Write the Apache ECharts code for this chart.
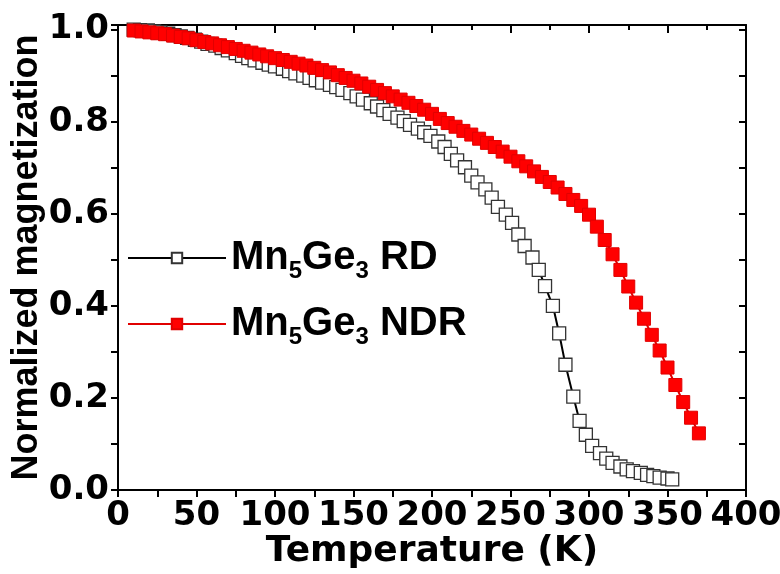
<!DOCTYPE html>
<html>
<head>
<meta charset="utf-8">
<script src="https://cdn.jsdelivr.net/npm/echarts@6/dist/echarts.min.js"></script>
<style>
html,body{margin:0;padding:0;background:#fff;}
#chart{width:780px;height:574px;}
</style>
</head>
<body>
<div id="chart"></div>
<script>
// Temperature (K) and normalized magnetization
const rdT = [10,14,19,23,27,32,36,40,44,49,53,57,62,66,70,75,79,83,87,92,96,100,105,109,113,118,122,126,130,135,139,143,148,152,156,161,165,169,173,178,182,186,191,195,199,204,208,212,216,221,225,229,234,238,242,247,251,255,259,264,268,272,277,281,285,290,294,298,302,307,311,315,320,324,328,333,337,341,345,350,353];
const rdM = [1.000,0.999,0.998,0.996,0.994,0.991,0.988,0.985,0.982,0.978,0.974,0.969,0.965,0.960,0.955,0.949,0.943,0.938,0.933,0.928,0.924,0.920,0.915,0.910,0.905,0.900,0.895,0.890,0.885,0.880,0.875,0.869,0.862,0.855,0.848,0.840,0.833,0.825,0.817,0.809,0.801,0.793,0.785,0.777,0.769,0.757,0.745,0.730,0.716,0.701,0.683,0.668,0.653,0.635,0.615,0.598,0.580,0.555,0.530,0.505,0.478,0.443,0.400,0.340,0.272,0.203,0.150,0.120,0.096,0.080,0.068,0.059,0.051,0.045,0.041,0.037,0.033,0.030,0.027,0.025,0.023];
const ndrT = [10,15,20,25,30,35,40,45,50,55,60,65,70,75,80,85,90,95,100,105,110,115,120,125,130,135,140,145,150,155,160,165,170,175,180,185,190,195,200,205,210,215,220,225,230,235,240,245,250,255,260,265,270,275,280,285,290,295,300,305,310,315,320,325,330,335,340,345,350,355,360,365,370];
const ndrM = [0.998,0.996,0.994,0.992,0.990,0.987,0.984,0.981,0.977,0.973,0.970,0.966,0.962,0.958,0.954,0.950,0.946,0.942,0.938,0.934,0.930,0.926,0.922,0.917,0.912,0.907,0.901,0.895,0.889,0.883,0.876,0.869,0.862,0.855,0.848,0.841,0.834,0.826,0.817,0.806,0.797,0.789,0.780,0.772,0.763,0.754,0.745,0.735,0.724,0.714,0.703,0.692,0.680,0.669,0.657,0.643,0.630,0.617,0.598,0.572,0.543,0.512,0.478,0.442,0.407,0.372,0.337,0.303,0.266,0.228,0.191,0.157,0.123];
const seriesNames = ['Mn5Ge3 RD', 'Mn5Ge3 NDR'];
const legendRich = {
  'Mn5Ge3 RD': '{t|Mn}{s|5}{t|Ge}{s|3}{t| RD}',
  'Mn5Ge3 NDR': '{t|Mn}{s|5}{t|Ge}{s|3}{t| NDR}'
};
const xTicks = {min: 0, max: 400, interval: 50};
const yTicks = {min: 0, max: 1.01, interval: 0.2};

const pair = (xs, ys) => xs.map((x, i) => [x, ys[i]]);
const chart = echarts.init(document.getElementById('chart'), null, {renderer: 'canvas'});
const labelFont = {fontFamily: 'DejaVu Sans', fontWeight: 'bold', fontSize: 34, color: '#000'};
const axisLine = {show: true, onZero: false, lineStyle: {color: '#000', width: 2}};
chart.setOption({
  animation: false,
  backgroundColor: '#fff',
  grid: {left: 118, right: 34, top: 25, bottom: 84, containLabel: false, outerBoundsMode: 'none'},
  legend: {
    orient: 'vertical', left: 122, top: 228, itemGap: 16,
    itemWidth: 98, itemHeight: 13,
    data: seriesNames,
    formatter: n => legendRich[n],
    textStyle: {
      rich: {
        t: {fontFamily: 'Liberation Sans', fontWeight: 'bold', fontSize: 40, lineHeight: 46, color: '#000'},
        s: {fontFamily: 'Liberation Sans', fontWeight: 'bold', fontSize: 24, lineHeight: 24, padding: [26, 0, 0, 0], color: '#000'}
      }
    }
  },
  xAxis: [{
    type: 'value', position: 'bottom', min: xTicks.min, max: xTicks.max, interval: xTicks.interval,
    name: 'Temperature (K)', nameLocation: 'middle', nameGap: 44, nameMoveOverlap: false,
    nameTextStyle: {fontFamily: 'DejaVu Sans', fontWeight: 'bold', fontSize: 36, color: '#000'},
    axisLine: axisLine,
    axisTick: {show: true, inside: false, length: 7, lineStyle: {color: '#000', width: 2}},
    minorTick: {show: true, splitNumber: 2, length: 7, lineStyle: {color: '#000', width: 2}},
    axisLabel: Object.assign({margin: 9}, labelFont),
    splitLine: {show: false}
  }, {
    type: 'value', position: 'top', min: xTicks.min, max: xTicks.max, interval: xTicks.interval,
    axisLine: axisLine,
    axisTick: {show: true, inside: true, length: 8, lineStyle: {color: '#000', width: 2}},
    minorTick: {show: true, splitNumber: 2, length: 5, lineStyle: {color: '#000', width: 2}},
    axisLabel: {show: false}, splitLine: {show: false}
  }],
  yAxis: [{
    type: 'value', position: 'left', min: yTicks.min, max: yTicks.max, interval: yTicks.interval,
    name: 'Normalized magnetization', nameLocation: 'middle', nameGap: 73, nameRotate: 90, nameMoveOverlap: false,
    nameTextStyle: {fontFamily: 'Liberation Sans', fontWeight: 'bold', fontSize: 36, color: '#000'},
    axisLine: axisLine,
    axisTick: {show: true, inside: false, length: 7, lineStyle: {color: '#000', width: 2}},
    minorTick: {show: true, splitNumber: 2, length: 7, lineStyle: {color: '#000', width: 2}},
    axisLabel: Object.assign({margin: 9, showMaxLabel: false, formatter: v => v.toFixed(1)}, labelFont),
    splitLine: {show: false}
  }, {
    type: 'value', position: 'right', min: yTicks.min, max: yTicks.max, interval: yTicks.interval,
    axisLine: axisLine,
    axisTick: {show: true, inside: true, length: 7, lineStyle: {color: '#000', width: 2}},
    minorTick: {show: true, splitNumber: 2, length: 7, lineStyle: {color: '#000', width: 2}},
    axisLabel: {show: false}, splitLine: {show: false}
  }],
  series: [{
    name: seriesNames[0], type: 'line', xAxisIndex: 0, yAxisIndex: 0, z: 2,
    data: pair(rdT, rdM),
    symbol: 'rect', symbolSize: 13, showAllSymbol: true,
    lineStyle: {color: '#000', width: 2},
    itemStyle: {color: '#fff', borderColor: '#333', borderWidth: 1.3}
  }, {
    name: seriesNames[1], type: 'line', xAxisIndex: 0, yAxisIndex: 0, z: 3,
    data: pair(ndrT, ndrM),
    symbol: 'rect', symbolSize: 13, showAllSymbol: true,
    lineStyle: {color: '#e00000', width: 2},
    itemStyle: {color: '#ff0000', borderColor: '#e00000', borderWidth: 1}
  }]
});
</script>
</body>
</html>
